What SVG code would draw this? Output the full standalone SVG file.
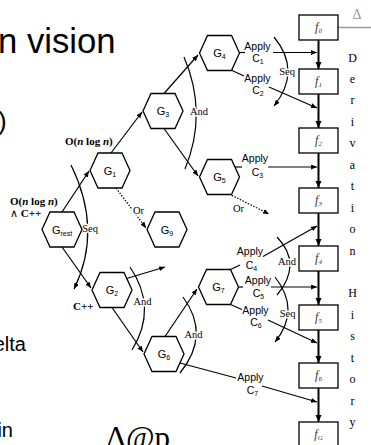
<svg xmlns="http://www.w3.org/2000/svg" xmlns:xlink="http://www.w3.org/1999/xlink" width="371" height="445" viewBox="0 0 371 445">
<style>
.hex{fill:#fff;stroke:#000;stroke-width:1.3}
.box{fill:#fff;stroke:#000;stroke-width:1.3}
.ln{fill:none;stroke:#000;stroke-width:1.2}
.dot{fill:none;stroke:#000;stroke-width:1.2;stroke-dasharray:1.5 1.5}
.thick{fill:none;stroke:#000;stroke-width:2}
.g{font-family:"Liberation Sans",Arial,sans-serif;font-size:11px;text-anchor:middle}
.ap{font-family:"Liberation Sans",Arial,sans-serif;font-size:10.5px;text-anchor:middle}
.sr{font-family:"Liberation Serif","Times New Roman",serif;font-size:10.5px;text-anchor:middle;stroke:#fff;stroke-width:3;paint-order:stroke;stroke-linejoin:round}
.bd{font-family:"Liberation Serif","Times New Roman",serif;font-size:11px;font-weight:bold}
.f{font-family:"Liberation Serif","Times New Roman",serif;font-size:12px;font-style:italic;text-anchor:middle;fill:#333}
.big{font-family:"Liberation Sans",Arial,sans-serif}
</style>
<defs>
<polygon id="hx" class="hex" points="-20,0 -12,-17.5 12,-17.5 20,0 12,17.5 -12,17.5"/>
<rect id="bx" class="box" x="-19.5" y="0" width="39" height="25"/>
<marker id="a" markerUnits="userSpaceOnUse" markerWidth="7" markerHeight="6" refX="6" refY="2.5" orient="auto"><path d="M0,0 L6,2.5 L0,5 z" fill="#000"/></marker>
<marker id="ab" markerUnits="userSpaceOnUse" markerWidth="8" markerHeight="8" refX="7" refY="3" orient="auto"><path d="M0,0 L7,3 L0,6 z" fill="#000"/></marker>
</defs>

<!-- background slide text -->
<text class="big" x="-2" y="52.5" font-size="34.7">n vision</text>
<text class="big" x="-2" y="130" font-size="26">)</text>
<text class="big" x="26" y="351" font-size="20" text-anchor="end">elta</text>
<text class="big" x="13" y="437" font-size="20" text-anchor="end">in</text>
<text x="106" y="448" font-family="'Liberation Serif','Times New Roman',serif" font-size="31">Δ@p</text>

<!-- connectors -->
<g id="connectors">
<line class="ln" x1="62" y1="212" x2="89" y2="171" marker-end="url(#a)"/>
<line class="ln" x1="62" y1="247" x2="91" y2="288" marker-end="url(#a)"/>
<line class="ln" x1="111" y1="153" x2="142" y2="112" marker-end="url(#a)"/>
<line class="ln" x1="164" y1="93.5" x2="198" y2="55" marker-end="url(#a)"/>
<line class="ln" x1="164" y1="128.5" x2="198" y2="176" marker-end="url(#a)"/>
<line class="dot" x1="116" y1="188" x2="146" y2="228" marker-end="url(#a)"/>
<line class="dot" x1="229" y1="194" x2="269" y2="214" marker-end="url(#a)"/>
<line class="ln" x1="125" y1="279" x2="165" y2="267" marker-end="url(#a)"/>
<line class="ln" x1="112" y1="307.5" x2="143" y2="352" marker-end="url(#a)"/>
<line class="ln" x1="165" y1="336.5" x2="197" y2="289" marker-end="url(#a)"/>

<line class="ln" x1="240" y1="52.5" x2="245" y2="52.5"/>
<line class="ln" x1="273" y1="52.5" x2="317" y2="52.5" marker-end="url(#a)"/>
<line class="ln" x1="231" y1="70" x2="244" y2="76"/>
<line class="ln" x1="269" y1="87" x2="317" y2="108" marker-end="url(#a)"/>
<line class="ln" x1="234.5" y1="167" x2="242" y2="167"/>
<line class="ln" x1="268" y1="167" x2="317" y2="167" marker-end="url(#a)"/>
<line class="ln" x1="230.5" y1="269.5" x2="240" y2="265"/>
<line class="ln" x1="263" y1="256.5" x2="317" y2="226" marker-end="url(#a)"/>
<line class="ln" x1="238.5" y1="287" x2="243" y2="287"/>
<line class="ln" x1="271" y1="287" x2="317" y2="287" marker-end="url(#a)"/>
<line class="ln" x1="230.5" y1="304.5" x2="242" y2="309.5"/>
<line class="ln" x1="268" y1="320" x2="317" y2="343" marker-end="url(#a)"/>
<line class="ln" x1="180" y1="363" x2="236" y2="378"/>
<line class="ln" x1="262" y1="386" x2="317" y2="402" marker-end="url(#a)"/>

<!-- derivation arrows -->
<line class="thick" x1="318.5" y1="40" x2="318.5" y2="69" marker-end="url(#ab)"/>
<line class="thick" x1="318.5" y1="94" x2="318.5" y2="128" marker-end="url(#ab)"/>
<line class="thick" x1="318.5" y1="153" x2="318.5" y2="188" marker-end="url(#ab)"/>
<line class="thick" x1="318.5" y1="213" x2="318.5" y2="246" marker-end="url(#ab)"/>
<line class="thick" x1="318.5" y1="271" x2="318.5" y2="305" marker-end="url(#ab)"/>
<line class="thick" x1="318.5" y1="330" x2="318.5" y2="363" marker-end="url(#ab)"/>
<line class="thick" x1="318.5" y1="388" x2="318.5" y2="422" marker-end="url(#ab)"/>

<!-- arcs -->
<path class="ln" d="M71,165 Q103,230 74,289" marker-end="url(#a)"/>
<path class="ln" d="M184,57 Q208,113 185,169"/>
<path class="ln" d="M274,37 Q302,71 274,106" marker-end="url(#a)"/>
<path class="ln" d="M130,267 Q158,308 132,350"/>
<path class="ln" d="M183,297 Q211,335 180,373"/>
<path class="ln" d="M277,237 Q303,264 277,295"/>
<path class="ln" d="M275,277 Q301,310 275,342" marker-end="url(#a)"/>

<line x1="338" y1="27.5" x2="371" y2="27.5" stroke="#999" stroke-width="1.5"/>
</g>

<!-- connector labels -->
<g id="labels">
<text class="sr" x="90" y="232">Seq</text>
<text class="sr" x="199" y="115">And</text>
<text class="sr" x="287" y="75">Seq</text>
<text class="sr" x="142.5" y="305">And</text>
<text class="sr" x="193.5" y="338">And</text>
<text class="sr" x="287" y="265">And</text>
<text class="sr" x="287.5" y="317">Seq</text>
<text class="sr" x="138.5" y="214">Or</text>
<text class="sr" x="238.5" y="212">Or</text>

<text class="ap" x="257.5" y="50">Apply</text>
<text class="ap" x="258" y="62">C<tspan font-size="7" dy="2">1</tspan></text>
<text class="ap" x="257.5" y="82">Apply</text>
<text class="ap" x="258" y="94">C<tspan font-size="7" dy="2">2</tspan></text>
<text class="ap" x="255" y="162">Apply</text>
<text class="ap" x="257.5" y="176">C<tspan font-size="7" dy="2">3</tspan></text>
<text class="ap" x="250" y="255">Apply</text>
<text class="ap" x="251.5" y="269">C<tspan font-size="7" dy="2">4</tspan></text>
<text class="ap" x="258" y="284">Apply</text>
<text class="ap" x="258.5" y="297">C<tspan font-size="7" dy="2">5</tspan></text>
<text class="ap" x="255.5" y="314">Apply</text>
<text class="ap" x="256" y="326">C<tspan font-size="7" dy="2">6</tspan></text>
<text class="ap" x="250.5" y="381">Apply</text>
<text class="ap" x="252.5" y="394">C<tspan font-size="7" dy="2">7</tspan></text>

<text class="bd" x="65" y="145">O(<tspan font-style="italic">n</tspan> log <tspan font-style="italic">n</tspan>)</text>
<text class="bd" x="10" y="205">O(<tspan font-style="italic">n</tspan> log <tspan font-style="italic">n</tspan>)</text>
<text class="bd" x="10" y="217"><tspan font-weight="normal">∧</tspan>  C++</text>
<text class="bd" x="73" y="310">C++</text>
</g>

<!-- nodes -->
<g id="G4"><use xlink:href="#hx" x="219.5" y="53"/><text class="g" x="219.5" y="57">G<tspan font-size="7" dy="2">4</tspan></text></g>
<g id="G3"><use xlink:href="#hx" x="163" y="111"/><text class="g" x="163" y="115">G<tspan font-size="7" dy="2">3</tspan></text></g>
<g id="G1"><use xlink:href="#hx" x="110" y="170.5"/><text class="g" x="110" y="174.5">G<tspan font-size="7" dy="2">1</tspan></text></g>
<g id="G5"><use xlink:href="#hx" x="219.5" y="177"/><text class="g" x="219.5" y="181">G<tspan font-size="7" dy="2">5</tspan></text></g>
<g id="G9"><use xlink:href="#hx" x="167" y="229.5"/><text class="g" x="167" y="233.5">G<tspan font-size="7" dy="2">9</tspan></text></g>
<g id="Grest"><use xlink:href="#hx" x="62" y="229.5"/><text class="g" x="62" y="233.5">G<tspan font-size="7" dy="2">rest</tspan></text></g>
<g id="G2"><use xlink:href="#hx" x="112" y="290"/><text class="g" x="112" y="294">G<tspan font-size="7" dy="2">2</tspan></text></g>
<g id="G7"><use xlink:href="#hx" x="218.5" y="287"/><text class="g" x="218.5" y="291">G<tspan font-size="7" dy="2">7</tspan></text></g>
<g id="G6"><use xlink:href="#hx" x="164" y="354"/><text class="g" x="164" y="358">G<tspan font-size="7" dy="2">6</tspan></text></g>

<g id="f0"><use xlink:href="#bx" x="318.5" y="15"/><text class="f" x="318.5" y="31">f<tspan font-size="7" dy="2">0</tspan></text></g>
<g id="f1"><use xlink:href="#bx" x="318.5" y="69"/><text class="f" x="318.5" y="85">f<tspan font-size="7" dy="2">1</tspan></text></g>
<g id="f2"><use xlink:href="#bx" x="318.5" y="128"/><text class="f" x="318.5" y="144">f<tspan font-size="7" dy="2">2</tspan></text></g>
<g id="f3"><use xlink:href="#bx" x="318.5" y="188"/><text class="f" x="318.5" y="204">f<tspan font-size="7" dy="2">3</tspan></text></g>
<g id="f4"><use xlink:href="#bx" x="318.5" y="246"/><text class="f" x="318.5" y="262">f<tspan font-size="7" dy="2">4</tspan></text></g>
<g id="f5"><use xlink:href="#bx" x="318.5" y="305"/><text class="f" x="318.5" y="321">f<tspan font-size="7" dy="2">5</tspan></text></g>
<g id="f6"><use xlink:href="#bx" x="318.5" y="363"/><text class="f" x="318.5" y="379">f<tspan font-size="7" dy="2">6</tspan></text></g>
<g id="fG"><use xlink:href="#bx" x="318.5" y="422"/><text class="f" x="318.5" y="438">f<tspan font-size="7" dy="2">G</tspan></text></g>

<text x="357" y="19" font-family="'Liberation Serif','Times New Roman',serif" font-size="14" fill="#999" text-anchor="middle">Δ</text>
<text font-family="'Liberation Serif','Times New Roman',serif" font-size="12" text-anchor="middle"><tspan x="352.5" y="61.5">D</tspan><tspan x="352.5" dy="21.45">e</tspan><tspan x="352.5" dy="21.45">r</tspan><tspan x="352.5" dy="21.45">i</tspan><tspan x="352.5" dy="21.45">v</tspan><tspan x="352.5" dy="21.45">a</tspan><tspan x="352.5" dy="21.45">t</tspan><tspan x="352.5" dy="21.45">i</tspan><tspan x="352.5" dy="21.45">o</tspan><tspan x="352.5" dy="21.45">n</tspan><tspan x="352.5" dy="42.9">H</tspan><tspan x="352.5" dy="21.45">i</tspan><tspan x="352.5" dy="21.45">s</tspan><tspan x="352.5" dy="21.45">t</tspan><tspan x="352.5" dy="21.45">o</tspan><tspan x="352.5" dy="21.45">r</tspan><tspan x="352.5" dy="21.45">y</tspan></text>
</svg>
